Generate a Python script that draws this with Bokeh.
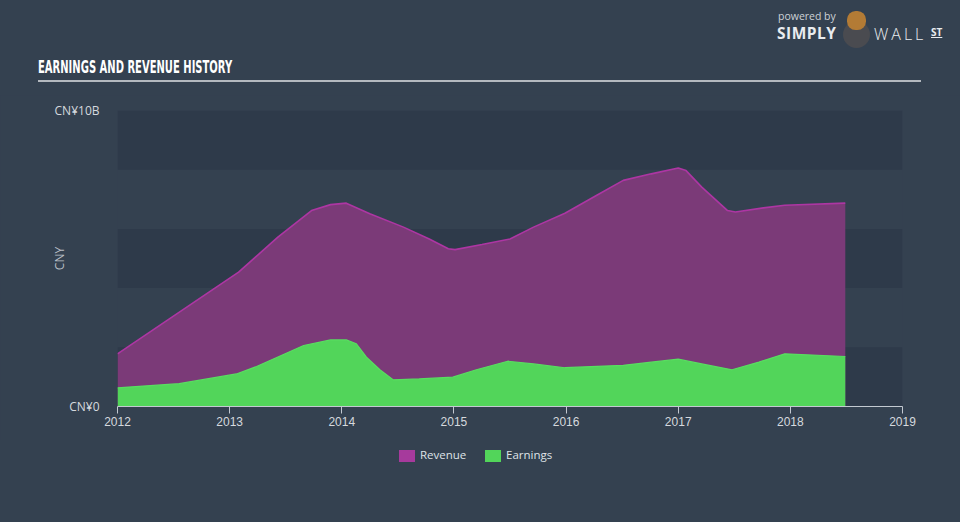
from bokeh.plotting import figure
from bokeh.layouts import column
from bokeh.models import Range1d, FixedTicker, BoxAnnotation, Div
from bokeh.embed import file_html
from bokeh.resources import INLINE

# ---- data ----
rev_year = [2012.0, 2013.08, 2013.43, 2013.73, 2013.90, 2014.04, 2014.25, 2014.55, 2014.78,
            2014.95, 2015.01, 2015.25, 2015.50, 2015.71, 2015.99, 2016.27, 2016.51, 2016.76,
            2017.0, 2017.07, 2017.21, 2017.44, 2017.51, 2017.76, 2017.95, 2018.49]
revenue = [1.78, 4.54, 5.72, 6.62, 6.82, 6.87, 6.51, 6.06, 5.66,
           5.33, 5.30, 5.47, 5.66, 6.06, 6.53, 7.13, 7.64, 7.86,
           8.06, 7.97, 7.41, 6.62, 6.57, 6.71, 6.80, 6.87]
earn_year = [2012.0, 2012.55, 2013.06, 2013.24, 2013.66, 2013.90, 2014.04, 2014.13, 2014.22,
             2014.34, 2014.46, 2014.69, 2014.99, 2015.20, 2015.48, 2015.71, 2015.99, 2016.51,
             2016.74, 2017.0, 2017.21, 2017.48, 2017.72, 2017.95, 2018.49]
earnings = [0.63, 0.77, 1.10, 1.35, 2.06, 2.25, 2.25, 2.12, 1.67,
            1.24, 0.90, 0.93, 0.99, 1.24, 1.53, 1.44, 1.31, 1.39,
            1.49, 1.60, 1.44, 1.24, 1.50, 1.78, 1.69]
x_ticks = [2012, 2013, 2014, 2015, 2016, 2017, 2018, 2019]
y_ticks = [0, 10]
y_tick_labels = ["CN¥0", "CN¥10B"]
band_edges = [0, 2, 4, 6, 8, 10]
series_names = ["Revenue", "Earnings"]
series_colors = ["#a63a9c", "#52d55a"]
title_text = "EARNINGS AND REVENUE HISTORY"

BG = "#344150"
HEAD_H = 95
MAIN_H = 345
FOOT_H = 522 - HEAD_H - MAIN_H


def span(left, top, text, css):
    return (f'<span style="position:absolute;left:{left}px;top:{top}px;white-space:nowrap;'
            f'line-height:1;{css}">{text}</span>')


# ---------------- header: title, rule, logo (HTML) ----------------
head_html = (
    f'<div style="position:relative;width:960px;height:{HEAD_H}px;background:{BG};overflow:hidden">'
    + span(38, 58, title_text,
           "font-family:'DejaVu Sans';font-weight:bold;font-size:18px;color:#ffffff;"
           "transform:scaleX(0.555);transform-origin:0 0")
    + '<div style="position:absolute;left:38px;top:80px;width:883px;height:2px;background:#b4b9bf"></div>'
    + span(778, 11, "powered by", "font-family:'Open Sans';font-size:10.5px;color:#cdd1d6")
    + span(777, 26, "SIMPLY", "font-family:'Open Sans';font-weight:bold;font-size:15.5px;"
           "color:#e9ecef;letter-spacing:0.5px")
    + '<div style="position:absolute;left:843px;top:21px;width:27px;height:27px;border-radius:50%;'
      'background:#4a4b50"></div>'
    + '<div style="position:absolute;left:847px;top:11px;width:19px;height:19px;border-radius:45%;'
      'background:#b37b35"></div>'
    + span(874, 26, "WALL", "font-family:'Open Sans';font-size:16px;color:#e9ecef;"
           "font-weight:300;letter-spacing:3px")
    + span(931, 27, "ST", "font-family:'Open Sans';font-weight:bold;font-size:10px;color:#e9ecef;"
           "text-decoration:underline")
    + '</div>'
)
head = Div(text=head_html, width=960, height=HEAD_H, margin=0,
           styles={"background-color": BG})

# ---------------- main chart ----------------
p = figure(width=960, height=MAIN_H, output_backend="svg", toolbar_location=None,
           x_range=Range1d(2012, 2019), y_range=Range1d(0, 10),
           min_border_left=117, min_border_right=58, min_border_top=110 - HEAD_H,
           min_border_bottom=HEAD_H + MAIN_H - 406, margin=0)
p.background_fill_alpha = 0
p.border_fill_color = BG
p.outline_line_color = None
p.grid.visible = False

for i in range(0, len(band_edges) - 1, 2):
    p.add_layout(BoxAnnotation(bottom=band_edges[i], top=band_edges[i + 1],
                               fill_color="#2e3a4a", fill_alpha=1.0, line_color=None,
                               level="underlay"))

p.varea(x=rev_year, y1=[0] * len(rev_year), y2=revenue, fill_color="#7b3a78", fill_alpha=1)
p.line(x=rev_year, y=revenue, line_color="#ad36a3", line_width=1.6)
p.varea(x=earn_year, y1=[0] * len(earn_year), y2=earnings, fill_color="#52d55a", fill_alpha=1)
p.line(x=earn_year, y=earnings, line_color="#58de60", line_width=1.2)

p.xaxis.ticker = FixedTicker(ticks=x_ticks)
p.xaxis.axis_line_color = "#c3c9d1"
p.xaxis.major_tick_line_color = "#c3c9d1"
p.xaxis.major_tick_out = 7
p.xaxis.major_tick_in = 0
p.xaxis.minor_tick_line_color = None
p.xaxis.major_label_text_color = "#d5d9de"
p.xaxis.major_label_text_font = "Liberation Sans"
p.xaxis.major_label_text_font_size = "12px"
p.xaxis.major_label_standoff = 3

p.yaxis.ticker = FixedTicker(ticks=y_ticks)
p.yaxis.major_label_overrides = {t: s for t, s in zip(y_ticks, y_tick_labels)}
p.yaxis.axis_line_color = None
p.yaxis.major_tick_line_color = None
p.yaxis.minor_tick_line_color = None
p.yaxis.major_label_text_color = "#d5d9de"
p.yaxis.major_label_text_font = "Open Sans"
p.yaxis.major_label_text_font_size = "12px"
p.yaxis.major_label_standoff = 12
p.yaxis.axis_label = "CNY"
p.yaxis.axis_label_text_color = "#b8bec6"
p.yaxis.axis_label_text_font = "Open Sans"
p.yaxis.axis_label_text_font_style = "normal"
p.yaxis.axis_label_text_font_size = "12px"
p.yaxis.axis_label_standoff = -16

# ---------------- footer: legend (HTML) ----------------
foot_html = (
    f'<div style="position:relative;width:960px;height:{FOOT_H}px;background:{BG}">'
    + f'<div style="position:absolute;left:399px;top:10px;width:16px;height:12px;background:{series_colors[0]}"></div>'
    + span(420, 9, series_names[0], "font-family:'Open Sans';font-size:11.5px;color:#dfe3e7")
    + f'<div style="position:absolute;left:485px;top:10px;width:16px;height:12px;background:{series_colors[1]}"></div>'
    + span(506, 9, series_names[1], "font-family:'Open Sans';font-size:11.5px;color:#dfe3e7")
    + '</div>'
)
foot = Div(text=foot_html, width=960, height=FOOT_H, margin=0,
           styles={"background-color": BG})

layout = column(head, p, foot, spacing=0, styles={"background-color": BG})
open("out.html", "w").write(file_html(layout, INLINE))
